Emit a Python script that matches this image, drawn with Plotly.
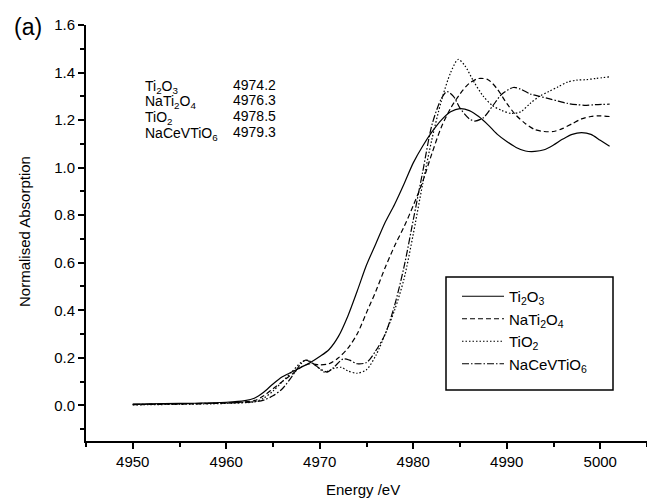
import plotly.graph_objects as go

# ---------------- data ----------------
ti2o3_E = [4950, 4955, 4960, 4962, 4963, 4964, 4965, 4966, 4967, 4968, 4969, 4970, 4971, 4972,
           4973, 4974, 4975, 4976, 4977, 4978, 4979, 4980, 4981, 4982, 4983, 4984, 4985, 4986,
           4987, 4988, 4989, 4990, 4991, 4992, 4993, 4994, 4995, 4996, 4997, 4998, 4999, 5000, 5001]
ti2o3_A = [0.005, 0.008, 0.013, 0.02, 0.03, 0.055, 0.09, 0.12, 0.14, 0.16, 0.18, 0.205, 0.235, 0.29,
           0.375, 0.48, 0.59, 0.68, 0.77, 0.845, 0.93, 1.02, 1.09, 1.15, 1.20, 1.235, 1.248, 1.24,
           1.215, 1.18, 1.14, 1.11, 1.085, 1.07, 1.068, 1.075, 1.095, 1.12, 1.14, 1.147, 1.14, 1.115, 1.09]

nati2o4_E = [4950, 4960, 4963, 4964, 4965, 4966, 4967, 4968, 4969, 4970, 4971, 4972, 4973, 4974,
             4975, 4976, 4977, 4978, 4979, 4980, 4981, 4982, 4983, 4984, 4985, 4986, 4987, 4988,
             4989, 4990, 4991, 4992, 4993, 4994, 4995, 4996, 4997, 4998, 4999, 5000, 5001]
nati2o4_A = [0.003, 0.01, 0.02, 0.04, 0.07, 0.10, 0.13, 0.16, 0.175, 0.17, 0.175, 0.20, 0.24, 0.30,
             0.39, 0.48, 0.58, 0.67, 0.75, 0.84, 0.94, 1.06, 1.17, 1.25, 1.31, 1.355, 1.375, 1.37,
             1.33, 1.27, 1.22, 1.185, 1.16, 1.152, 1.152, 1.165, 1.185, 1.205, 1.215, 1.218, 1.215]

tio2_E = [4950, 4960, 4963, 4964, 4965, 4966, 4967, 4968, 4968.7, 4969.5, 4970.5, 4971.5, 4972.3,
          4973, 4974, 4975, 4976, 4977, 4978, 4979, 4980, 4981, 4982, 4983, 4984, 4984.8, 4985.5,
          4986.5, 4987.5, 4988.5, 4989.5, 4990.5, 4991.5, 4992.5, 4993.5, 4994.5, 4995.5, 4996.5,
          4997.5, 4998.5, 4999.5, 5001]
tio2_A = [0.002, 0.008, 0.015, 0.03, 0.06, 0.10, 0.14, 0.18, 0.19, 0.17, 0.14, 0.155, 0.16,
          0.145, 0.135, 0.15, 0.21, 0.30, 0.40, 0.53, 0.72, 0.93, 1.12, 1.28, 1.40, 1.455, 1.43,
          1.36, 1.30, 1.26, 1.24, 1.228, 1.235, 1.27, 1.30, 1.32, 1.34, 1.36,
          1.368, 1.37, 1.375, 1.382]

nacev_E = [4950, 4960, 4963, 4964, 4965, 4966, 4967, 4968, 4968.5, 4969.3, 4970, 4970.8, 4971.5,
           4972.5, 4973.2, 4974, 4975, 4976, 4977, 4978, 4979, 4980, 4981, 4982, 4983, 4983.6,
           4984.3, 4985, 4986, 4986.6, 4987.5, 4988.5, 4989.5, 4990.7, 4991.5, 4992.5, 4993.5,
           4994.5, 4995.5, 4996.5, 4997.5, 4998.5, 4999.5, 5001]
nacev_A = [0.004, 0.01, 0.015, 0.022, 0.04, 0.07, 0.12, 0.175, 0.19, 0.175, 0.155, 0.14, 0.16,
           0.195, 0.19, 0.175, 0.18, 0.23, 0.30, 0.42, 0.58, 0.78, 0.98, 1.18, 1.29, 1.32,
           1.30, 1.25, 1.205, 1.196, 1.21, 1.26, 1.31, 1.337, 1.33, 1.31, 1.30,
           1.29, 1.28, 1.27, 1.265, 1.262, 1.265, 1.267]

series_names = ["Ti<sub>2</sub>O<sub>3</sub>", "NaTi<sub>2</sub>O<sub>4</sub>",
                "TiO<sub>2</sub>", "NaCeVTiO<sub>6</sub>"]
edge_labels = ["Ti<sub>2</sub>O<sub>3</sub>", "NaTi<sub>2</sub>O<sub>4</sub>",
               "TiO<sub>2</sub>", "NaCeVTiO<sub>6</sub>"]
edge_values = ["4974.2", "4976.3", "4978.5", "4979.3"]

x_ticks = [4950, 4960, 4970, 4980, 4990, 5000]
y_ticks = [0.0, 0.2, 0.4, 0.6, 0.8, 1.0, 1.2, 1.4, 1.6]

# ---------------- layout geometry ----------------
W, H = 647, 500
ML, MR, MT, MB = 86, 0, 25, 59
PW, PH = W - ML - MR, H - MT - MB


def px(x):
    return (x - ML) / PW


def py(y):
    return (H - MB - y) / PH


FONT = "Arial, Liberation Sans, sans-serif"

fig = go.Figure()
dashes = ["solid", "5px,3px", "1.5px,2px", "7px,2px,1.5px,2px"]
data = [(ti2o3_E, ti2o3_A), (nati2o4_E, nati2o4_A), (tio2_E, tio2_A), (nacev_E, nacev_A)]
for (xs, ys), name, d in zip(data, series_names, dashes):
    fig.add_trace(go.Scatter(x=xs, y=ys, mode="lines", name=name,
                             line=dict(color="black", width=1.2, dash=d, shape="spline",
                                       smoothing=0.8)))

axis_common = dict(showgrid=False, zeroline=False, showline=True, linecolor="black",
                   linewidth=2, ticks="outside", tickwidth=2, tickcolor="black",
                   tickfont=dict(family=FONT, size=15, color="black"), mirror=False)

fig.update_xaxes(range=[4945, 5005], tickvals=x_ticks, ticklen=6,
                 minor=dict(dtick=5, tick0=4945, ticklen=4, tickwidth=2, ticks="outside",
                            tickcolor="black", showgrid=False),
                 **axis_common)
fig.update_yaxes(range=[-0.15, 1.6], tickvals=y_ticks, tickformat=".1f", ticklen=6,
                 minor=dict(dtick=0.1, tick0=0, ticklen=4, tickwidth=2, ticks="outside",
                            tickcolor="black", showgrid=False),
                 **axis_common)


def note(text, x, y, size, xanchor="center", yanchor="middle", angle=0):
    return dict(text=text, x=px(x), y=py(y), xref="paper", yref="paper",
                xanchor=xanchor, yanchor=yanchor, textangle=angle, showarrow=False,
                font=dict(family=FONT, size=size, color="black"))


annotations = [
    note("Energy /eV", 363, 490, 15),
    note("Normalised Absorption", 24, 232, 15, angle=-90),
    note("(a)", 28, 27, 23),
]
row_y = [87, 102.5, 118, 133.5]
for lab, val, ry in zip(edge_labels, edge_values, row_y):
    annotations.append(note(lab, 143, ry, 14, xanchor="left"))
    annotations.append(note(val, 231, ry - 2, 14, xanchor="left"))

fig.update_layout(
    width=W, height=H,
    margin=dict(l=ML, r=MR, t=MT, b=MB, pad=0),
    paper_bgcolor="white", plot_bgcolor="white",
    annotations=annotations,
    showlegend=True,
    legend=dict(x=px(457), y=py(280), xanchor="left", yanchor="top",
                bgcolor="rgba(0,0,0,0)", borderwidth=0, itemwidth=42,
                font=dict(family=FONT, size=15, color="black"), tracegroupgap=0),
    shapes=[dict(type="rect", xref="paper", yref="paper",
                 x0=px(446), x1=px(613), y0=py(390), y1=py(277),
                 line=dict(color="black", width=1.5), fillcolor="rgba(0,0,0,0)")],
)

fig.write_html("out.html")
